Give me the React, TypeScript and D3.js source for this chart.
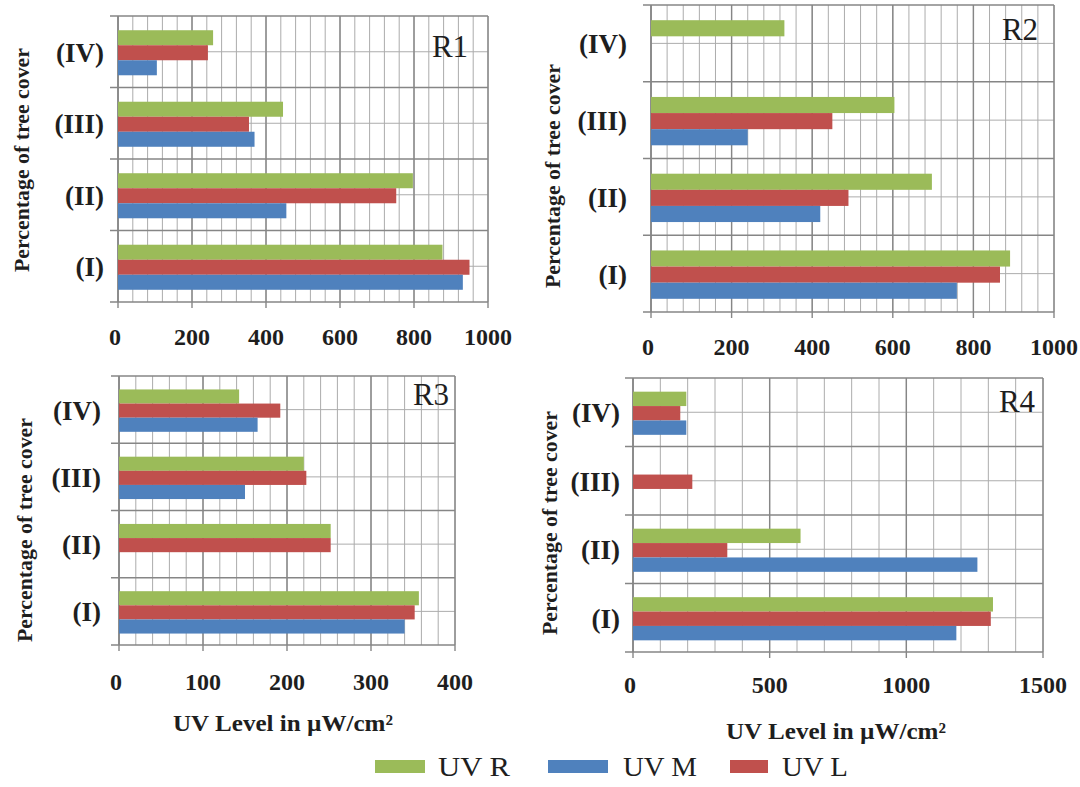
import React from "react";
import * as d3 from "d3";

const categories = ["(I)", "(II)", "(III)", "(IV)"];
const seriesNames = ["UV R", "UV L", "UV M"]; // top to bottom inside each group
const seriesColors = ["#9bbb59", "#c0504d", "#4f81bd"];

const r1UVR = [877, 797, 446, 257];
const r1UVL = [950, 752, 354, 243];
const r1UVM = [932, 455, 369, 105];

const r2UVR = [891, 697, 604, 331];
const r2UVL = [866, 490, 450, 0];
const r2UVM = [759, 420, 240, 0];

const r3UVR = [357, 252, 220, 143];
const r3UVL = [352, 252, 223, 192];
const r3UVM = [340, 0, 150, 165];

const r4UVR = [1317, 613, 0, 195];
const r4UVL = [1309, 345, 217, 173];
const r4UVM = [1183, 1260, 0, 195];

const r1Ticks = [0, 200, 400, 600, 800, 1000];
const r2Ticks = [0, 200, 400, 600, 800, 1000];
const r3Ticks = [0, 100, 200, 300, 400];
const r4Ticks = [0, 500, 1000, 1500];

const panelNames = ["R1", "R2", "R3", "R4"];
const yTitle = "Percentage of tree cover";
const xTitle = "UV Level in \u00b5W/cm\u00b2";
const legendOrder = ["UV R", "UV M", "UV L"];

const SERIF = "'Liberation Serif', 'Times New Roman', 'DejaVu Serif', serif";

type Layout = {
  x0: number; x1: number; y0: number; y1: number;
  minor: number; tickY: number;
  labelX: number; labelY: number;
  yTitleX: number; yTitleY: number; catRight: number;
  xTitleX?: number; xTitleY?: number;
};

const layouts: Layout[] = [
  { x0: 118, x1: 488, y0: 16, y1: 302, minor: 40, tickY: 345, labelX: 450, labelY: 57, yTitleX: 22, yTitleY: 160, catRight: 104 },
  { x0: 651, x1: 1054, y0: 5, y1: 312, minor: 40, tickY: 355, labelX: 1020, labelY: 40, yTitleX: 553, yTitleY: 176, catRight: 627 },
  { x0: 119, x1: 455, y0: 376, y1: 645, minor: 20, tickY: 690, labelX: 431, labelY: 405, yTitleX: 25, yTitleY: 530, catRight: 101, xTitleX: 283, xTitleY: 731 },
  { x0: 633, x1: 1043, y0: 378, y1: 652, minor: 100, tickY: 693, labelX: 1017, labelY: 412, yTitleX: 550, yTitleY: 523, catRight: 620, xTitleX: 836, xTitleY: 739 },
];

const panelData = [
  { name: panelNames[0], ticks: r1Ticks, series: [r1UVR, r1UVL, r1UVM] },
  { name: panelNames[1], ticks: r2Ticks, series: [r2UVR, r2UVL, r2UVM] },
  { name: panelNames[2], ticks: r3Ticks, series: [r3UVR, r3UVL, r3UVM] },
  { name: panelNames[3], ticks: r4Ticks, series: [r4UVR, r4UVL, r4UVM] },
];

function Panel({ data, lay }: { data: typeof panelData[0]; lay: Layout }) {
  const max = data.ticks[data.ticks.length - 1];
  const x = d3.scaleLinear().domain([0, max]).range([lay.x0, lay.x1]);
  const y = d3.scaleBand<string>().domain([...categories].reverse()).range([lay.y0, lay.y1]).padding(0);
  const bw = y.bandwidth();
  const groupH = bw * 0.63;
  const inner = d3.scaleBand<string>().domain(seriesNames).range([0, groupH]).padding(0);
  const minorTicks = d3.range(0, max + 0.001, lay.minor);
  const boundaries = categories.map((c) => y(c)!).concat([lay.y1]);
  return (
    <g>
      {minorTicks.map((t, i) => (
        <line key={"mv" + i} x1={x(t)} x2={x(t)} y1={lay.y0} y2={lay.y1} stroke="#acacac" strokeWidth={1} />
      ))}
      {categories.map((c) => (
        <line key={"mh" + c} x1={lay.x0} x2={lay.x1} y1={y(c)! + bw / 2} y2={y(c)! + bw / 2} stroke="#acacac" strokeWidth={1} />
      ))}
      {data.ticks.map((t) => (
        <line key={"Mv" + t} x1={x(t)} x2={x(t)} y1={lay.y0} y2={lay.y1 + 6} stroke="#868686" strokeWidth={1.4} />
      ))}
      {boundaries.map((b, i) => (
        <line key={"Mh" + i} x1={lay.x0 - 8} x2={lay.x1} y1={b} y2={b} stroke="#868686" strokeWidth={1.4} />
      ))}
      <line x1={lay.x0} x2={lay.x0} y1={lay.y0} y2={lay.y1} stroke="#868686" strokeWidth={1.4} />
      {categories.map((c, ci) =>
        seriesNames.map((s, si) => {
          const v = data.series[si][ci];
          if (!v) return null;
          const yy = y(c)! + (bw - groupH) / 2 + 1 + inner(s)!;
          return (
            <rect key={c + s} x={x(0)} y={yy} width={x(v) - x(0)} height={inner.bandwidth()} fill={seriesColors[si]} />
          );
        })
      )}
      {data.ticks.map((t) => (
        <text key={"tl" + t} x={x(t) - (t === 0 ? 3 : 0)} y={lay.tickY} textAnchor="middle" fontFamily={SERIF} fontWeight="bold" fontSize={24} fill="#1e1e1e">
          {t}
        </text>
      ))}
      {categories.map((c) => (
        <text key={"cl" + c} x={lay.catRight} y={y(c)! + bw / 2 + 1} textAnchor="end" dominantBaseline="central" fontFamily={SERIF} fontWeight="bold" fontSize={27} fill="#1e1e1e">
          {c}
        </text>
      ))}
      <text x={lay.labelX} y={lay.labelY} textAnchor="middle" fontFamily={SERIF} fontSize={31} fill="#1e1e1e">
        {data.name}
      </text>
      <text transform={`translate(${lay.yTitleX},${lay.yTitleY}) rotate(-90)`} textAnchor="middle" dominantBaseline="central" fontFamily={SERIF} fontWeight="bold" fontSize={21} fill="#1e1e1e" textLength={224} lengthAdjust="spacingAndGlyphs">
        {yTitle}
      </text>
      {lay.xTitleX !== undefined && (
        <text x={lay.xTitleX} y={lay.xTitleY} textAnchor="middle" fontFamily={SERIF} fontWeight="bold" fontSize={23} fill="#1e1e1e" textLength={220} lengthAdjust="spacingAndGlyphs">
          {xTitle}
        </text>
      )}
    </g>
  );
}

const legendLayout = [
  { sx: 375, sw: 50, tx: 438, tw: 72 },
  { sx: 548, sw: 60, tx: 623, tw: 74 },
  { sx: 730, sw: 38, tx: 782, tw: 66 },
];

export default function App() {
  return (
    <svg width={1080} height={787} style={{ position: "absolute", left: 0, top: 0, background: "#fff" }}>
      <rect width={1080} height={787} fill="#fff" />
      {panelData.map((p, i) => (
        <Panel key={p.name} data={p} lay={layouts[i]} />
      ))}
      {legendOrder.map((name, i) => {
        const si = seriesNames.indexOf(name);
        const l = legendLayout[i];
        return (
          <g key={name}>
            <rect x={l.sx} y={760} width={l.sw} height={13} fill={seriesColors[si]} />
            <text x={l.tx} y={776} fontFamily={SERIF} fontSize={27} fill="#1e1e1e" textLength={l.tw} lengthAdjust="spacingAndGlyphs">
              {name}
            </text>
          </g>
        );
      })}
    </svg>
  );
}
